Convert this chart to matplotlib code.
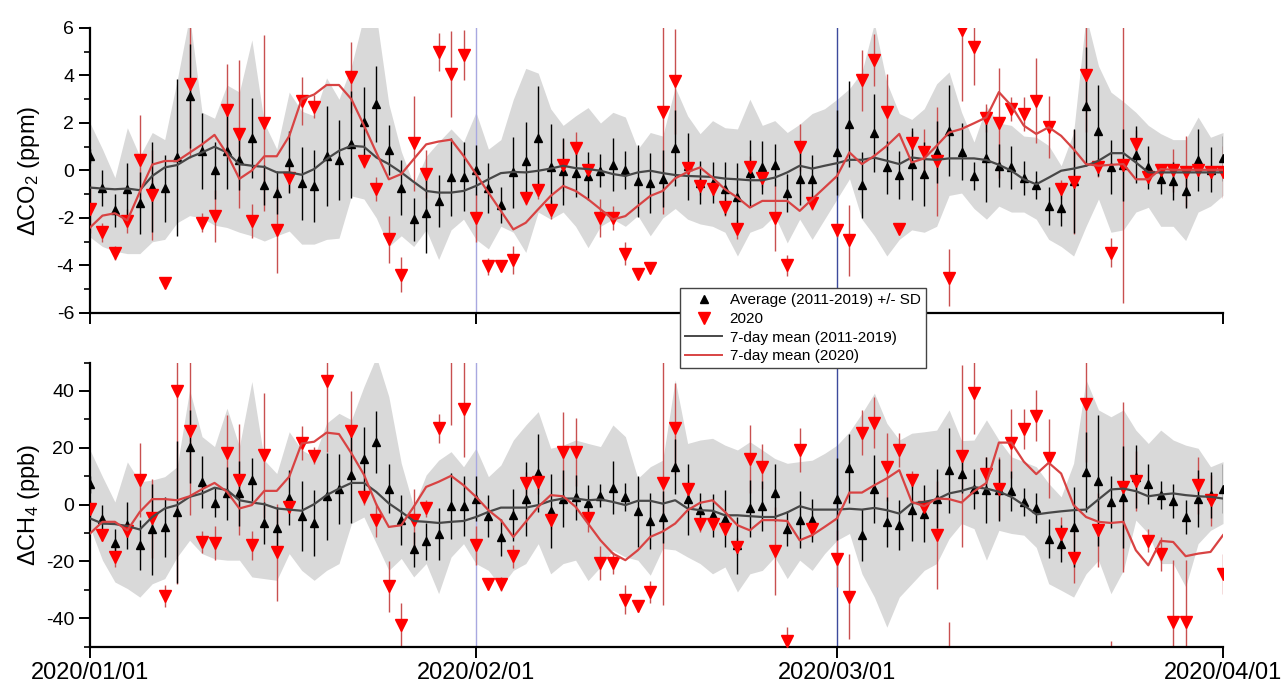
import numpy as np
import pandas as pd
import matplotlib
matplotlib.use("Agg")
import matplotlib.pyplot as plt
import matplotlib.dates as mdates
from matplotlib.lines import Line2D

plt.rcParams['font.family'] = ['Liberation Sans', 'DejaVu Sans']
plt.rcParams['mathtext.fontset'] = 'custom'
plt.rcParams['mathtext.rm'] = 'Liberation Sans'
plt.rcParams['mathtext.it'] = 'Liberation Sans'
plt.rcParams['mathtext.bf'] = 'Liberation Sans'
plt.rcParams['axes.unicode_minus'] = False

nan = np.nan
dates = pd.date_range('2020-01-01', '2020-04-01', freq='D')
tick_dates = pd.to_datetime(['2020-01-01', '2020-02-01', '2020-03-01', '2020-04-01'])
tick_labels = ['2020/01/01', '2020/02/01', '2020/03/01', '2020/04/01']
vline_dates = pd.to_datetime(['2020-02-01', '2020-03-01'])

# ---------------- CO2 (ppm) ----------------
co2_avg = [0.62, -0.75, -1.68, -0.79, -1.38, -0.69, -0.75, 0.55, 3.13, 0.83,
           0.0, 0.83, 0.44, 1.37, -0.62, -0.93, 0.37, -0.54, -0.65, 0.62,
           0.44, 1.1, 2.03, 2.79, 0.87, -0.72, -2.06, -1.77, -1.28, -0.27,
           -0.27, 0.03, -0.73, -1.44, -0.08, 0.39, 1.35, 0.15, -0.04, -0.1,
           -0.23, -0.01, 0.25, 0.04, -0.44, -0.52, -0.35, 0.95, 0.17, -0.51,
           -0.51, -0.76, -1.1, -0.1, 0.13, 0.23, -0.96, -0.34, -0.34, nan,
           0.76, 1.96, -0.62, 1.58, 0.13, -0.18, 0.27, -0.13, 0.79, 1.68,
           0.79, -0.23, 0.54, 0.2, 0.13, -0.32, -0.62, -1.49, -1.59, -0.45,
           2.7, 1.68, 0.15, 0.23, 0.66, 0.13, -0.37, -0.44, -0.86, 0.45,
           0.03, 0.52]
co2_avg_sd = [0.3, 0.75, 0.7, 1.1, 1.3, 1.9, 1.4, 3.3, 2.2, 1.6,
              1.2, 1.6, 1.25, 1.7, 0.85, 0.9, 1.3, 1.55, 1.5, 2.1,
              1.7, 2.25, 1.5, 1.6, 1.05, 1.15, 0.9, 1.7, 1.1, 1.65,
              1.45, 1.05, 1.05, 0.75, 1.5, 1.65, 2.2, 1.8, 1.4, 1.0,
              1.0, 0.7, 1.1, 0.8, 1.5, 1.25, 1.2, 1.6, 1.4, 0.9,
              0.85, 1.1, 1.4, 1.4, 1.1, 0.9, 0.8, 1.1, 1.0, nan,
              1.8, 1.8, 1.4, 1.65, 1.1, 1.0, 1.5, 1.35, 1.3, 1.9,
              1.2, 0.6, 1.85, 0.9, 0.9, 0.7, 0.6, 0.8, 0.75, 2.2,
              2.5, 1.9, 1.15, 1.5, 1.2, 0.9, 0.6, 0.8, 0.7, 1.3,
              0.95, 0.95]
co2_band_hi = [2.0, 0.9, -0.3, 1.8, 0.6, 1.6, 1.3, 3.8, 6.5, 2.45,
               2.2, 3.6, 3.3, 5.5, 2.0, 0.9, 3.3, 2.5, 2.3, 3.9,
               3.0, 4.4, 6.5, 6.5, 2.8, 0.8, -0.6, 0.6, 1.2, 1.75,
               1.2, 2.45, 0.9, 1.3, 3.0, 4.3, 4.1, 2.6, 1.9, 2.3,
               2.65, 2.0, 2.45, 2.25, 0.9, 1.6, 1.45, 3.5, 2.3, 1.55,
               2.1, 1.8, 1.75, 3.0, 1.9, 2.1, 1.6, 1.95, 2.4, 2.6,
               3.0, 3.45, 4.15, 6.2, 3.7, 2.4, 2.15, 2.6, 3.65, 4.15,
               2.45, 1.2, 2.7, 2.0, 1.9, 1.45, 1.4, 1.05, 0.2, 1.6,
               6.5, 4.4, 3.3, 2.9, 2.45, 1.9, 1.55, 1.3, 1.3, 2.25,
               1.4, 1.6]
co2_band_lo = [-2.8, -3.2, -3.4, -3.5, -3.5, -3.0, -2.9, -2.2, -1.9, -2.0,
               -2.3, -2.4, -2.6, -2.75, -2.97, -2.75, -2.55, -3.1, -3.1, -2.9,
               -2.85, -1.07, -1.2, -2.0, -3.2, -2.75, -3.2, -2.5, -3.75, -2.5,
               -2.05, -2.9, -3.3, -2.35, -2.6, -3.45, -1.75, -2.05, -1.75, -2.35,
               -3.25, -2.35, -2.05, -2.35, -1.9, -2.75, -2.0, -1.6, -2.05, -2.25,
               -2.35, -2.6, -3.6, -2.6, -2.4, -1.9, -3.05, -2.05, -2.9, -2.05,
               -1.2, -0.35, -2.05, -2.75, -3.6, -2.9, -2.5, -2.6, -2.35, -1.05,
               -0.95, -1.6, -2.05, -1.5, -1.75, -1.75, -2.05, -2.9, -3.2, -3.6,
               -2.35, -1.2, -2.6, -2.5, -1.75, -1.55, -2.35, -2.35, -2.95, -1.75,
               -1.5, -1.05]
co2_2020 = [-1.63, -2.59, -3.46, -2.14, 0.45, -1.04, -4.73, nan, 3.63, -2.2,
            -1.92, 2.55, 1.54, -2.13, 2.0, -2.5, -0.3, 2.93, 2.69, nan,
            nan, 3.93, 0.41, -0.79, -2.9, -4.38, 1.15, -0.15, 5.0, 4.07,
            4.85, -1.99, -4.03, -4.03, -3.77, -1.17, -0.82, -1.66, 0.24, 0.94,
            0.0, -1.99, -2.01, -3.5, -4.34, -4.1, 2.45, 3.75, 0.1, -0.65,
            -0.79, -1.52, -2.48, 0.13, -0.3, -1.99, -3.99, 0.97, -1.35, nan,
            -2.51, -2.94, 3.79, 4.66, 2.48, -2.45, 1.15, 0.76, 0.38, -4.52,
            5.93, 5.2, 2.2, 2.0, 2.59, 2.38, 2.94, 1.82, -0.79, -0.48,
            4.03, 0.13, -3.46, 0.24, 1.11, -0.27, 0.0, 0.0, -0.05, 0.03,
            -0.05, -0.05]
co2_2020_sd = [1.0, 0.4, 0.3, 0.5, 1.9, 1.9, 0.2, 0.0, 3.1, 0.4,
               1.1, 1.95, 3.1, 0.7, 3.7, 1.8, 0.6, 1.0, 0.5, 0.0,
               0.0, 1.5, 0.3, 0.5, 1.0, 0.75, 2.0, 1.0, 0.8, 1.8,
               1.05, 1.0, 0.35, 0.2, 0.6, 0.3, 0.4, 0.4, 1.1, 0.7,
               0.3, 0.8, 0.5, 0.5, 0.15, 0.2, 4.3, 2.2, 0.3, 0.4,
               0.3, 0.4, 0.4, 0.5, 0.4, 1.4, 0.45, 1.0, 0.3, 0.0,
               0.3, 1.5, 1.3, 1.1, 1.6, 0.2, 0.5, 1.0, 2.3, 1.2,
               3.0, 1.6, 0.6, 2.3, 0.5, 0.7, 1.8, 1.3, 0.4, 2.2,
               2.4, 0.4, 0.6, 5.8, 0.6, 0.3, 0.2, 0.9, 1.5, 0.2,
               0.3, 1.1]
co2_7d_avg = [-0.72, -0.76, -0.79, -0.76, -0.83, -0.23, 0.13, 0.23, 0.55, 0.76,
              1.0, 0.76, 0.27, 0.2, 0.15, -0.08, -0.08, -0.18, 0.06, 0.48,
              0.83, 1.04, 1.0, 0.55, 0.27, -0.08, -0.48, -0.86, -0.93, -0.93,
              -0.86, -0.65, -0.37, -0.11, -0.06, -0.08, -0.01, 0.08, 0.2, 0.1,
              0.06, -0.01, -0.15, -0.23, -0.08, -0.01, -0.11, -0.19, -0.23, -0.25,
              -0.27, -0.34, -0.37, -0.41, -0.41, -0.3, -0.08, 0.2, 0.08, 0.2,
              0.31, 0.45, 0.45, 0.54, 0.41, 0.27, 0.55, 0.48, 0.45, 0.51,
              0.51, 0.51, 0.44, 0.24, -0.01, -0.37, -0.58, -0.3, -0.01, 0.08,
              0.2, 0.41, 0.73, 0.73, 0.34, -0.08, -0.08, -0.08, -0.08, -0.08,
              -0.08, -0.08]
co2_7d_2020 = [-2.4, -1.9, -1.8, -2.1, -0.9, 0.25, 0.4, 0.4, 0.75, 1.1,
               1.5, 0.7, -0.35, 0.0, 0.6, 0.6, 1.45, 3.0, 3.2, 3.6,
               3.6, 3.0, 1.9, 0.75, -0.37, -0.15, 0.48, 1.1, 1.22, 1.3,
               0.62, -0.15, -0.93, -1.7, -2.48, -2.2, -1.63, -1.07, -0.65, -0.86,
               -1.21, -1.63, -2.06, -1.92, -1.49, -1.07, -0.86, -0.33, -0.06, 0.13,
               -0.3, -0.79, -1.14, -1.56, -1.28, -1.28, -1.28, -1.7, -1.21, -0.72,
               -0.23, 0.76, 0.27, 0.62, 1.04, 1.54, 0.34, 0.51, 1.04, 1.6,
               1.75, 1.99, 2.24, 3.3, 2.73, 1.89, 1.54, 1.82, 1.46, 0.9,
               0.27, 0.2, 0.24, 0.27, -0.37, -0.37, 0.06, 0.03, 0.03, 0.03,
               0.03, 0.03]

# ---------------- CH4 (ppb) ----------------
ch4_avg = [7.1, -5.2, -13.5, -7.3, -14.4, -8.8, -7.9, -2.8, 20.4, 8.0,
           0.7, 3.9, 3.9, 8.8, -6.4, -8.2, 2.4, -4.1, -6.5, 2.9,
           5.4, 10.4, 15.9, 22.1, 5.6, -5.5, -15.8, -12.9, -10.5, -0.5,
           -0.5, 2.1, -4.1, -11.6, -3.8, 1.9, 11.2, -2.4, 2.1, 2.5,
           0.7, 3.1, 5.9, 2.7, -2.4, -5.8, -4.4, 13.3, 1.8, -1.8,
           -3.8, -5.0, -14.4, -1.4, -0.6, 4.2, -8.5, -5.3, -5.5, nan,
           1.9, 12.7, -10.8, 5.6, -6.1, -7.3, -1.8, -3.2, 2.1, 12.1,
           10.9, 5.5, 5.1, 5.1, 4.7, 0.9, -1.1, -12.0, -13.8, -7.9,
           11.5, 8.4, 0.9, 2.7, 9.8, 7.2, 3.3, 1.3, -4.4, 2.0,
           3.3, 5.6]
ch4_avg_sd = [3, 5, 4.7, 8.2, 8.8, 15.9, 10.6, 25, 13, 9.1,
              5, 9.4, 11.5, 7.6, 7.4, 7.4, 9.7, 12.4, 11.5, 15.3,
              12.4, 17, 11.5, 10.9, 8.5, 8.8, 6.2, 6.5, 9.1, 11.5,
              10.6, 8, 7.4, 6.5, 9.2, 13, 13.7, 13, 10, 8,
              6.2, 4, 9.4, 5, 12.4, 10, 9, 9.7, 12.4, 5.9,
              7.6, 10, 10, 10, 8.8, 10, 6.2, 10, 7.6, nan,
              14.4, 12, 9.1, 12, 8.8, 8.8, 11, 10, 10.3, 15,
              7, 7, 11.5, 11, 7, 5, 5.3, 7, 6.5, 14,
              14, 23, 9, 18, 11, 7, 5, 6, 6, 10,
              8, 8.5]
ch4_band_hi = [19.2, 9.8, 0.9, 15, 8.0, 8.6, 9.8, 13.3, 40.4, 23.9,
               20.4, 33.9, 20.4, 43.3, 15.6, 10.9, 25.6, 19.2, 16.8, 28.6,
               32.1, 29.8, 41.5, 52, 38, 14.5, -0.8, 10.4, 15.6, 18.6,
               13.3, 19.8, 9.8, 13.9, 22.7, 28, 32.7, 19.8, 20.9, 22.7,
               21.5, 20.4, 28, 23.9, 9.2, 13.3, 15.6, 43.9, 21.5, 22.7,
               23.3, 20.9, 19.2, 22.1, 19.2, 16.2, 14.5, 15.1, 15.6, 18,
               20.9, 25.6, 32.1, 39.2, 28.6, 22.7, 25.1, 25.6, 26.2, 33.3,
               22.5, 22.7, 29.8, 22.7, 16.8, 15.1, 13.3, 7.4, 2.7, 14.5,
               43.9, 33.3, 30.9, 33.3, 26.2, 21.5, 26.2, 22.7, 20.9, 19.8,
               13.3, 15.1]
ch4_band_lo = [-8, -19.6, -27.3, -29.6, -32.6, -27.9, -26.1, -18.5, -12.6, -17.3,
               -19.1, -19.6, -19.6, -25.5, -26.1, -26.7, -17.3, -23.2, -26.7, -23.2,
               -20.8, -6.7, -4.4, -13.8, -23.2, -19, -25.5, -20.8, -31.4, -18.5,
               -13.8, -20.8, -23.2, -29, -23.2, -20.8, -13.8, -24.4, -20.8, -19.6,
               -26.8, -22, -16.1, -18.5, -19.6, -24.9, -15.5, -16, -18.5, -20.8,
               -24.4, -22, -30.8, -24.4, -23.2, -18.5, -26.1, -19.6, -23.2, -17.3,
               -12.6, -10.2, -24.4, -32.6, -43.2, -32.6, -27.9, -23.2, -20.8, -12,
               -6.7, -8.5, -19.6, -9.1, -10.2, -10.8, -15.1, -27.9, -30.2, -32.6,
               -24.4, -19.6, -31.4, -23.2, -5.5, -10.2, -20.8, -20.8, -29, -13.8,
               -9.1, -6.7]
ch4_2020 = [-1.6, -10.8, -18.5, -9.3, 8.6, -4.9, -32.2, 40.1, 25.9, -13.2,
            -13.5, 18.2, 8.8, -14.4, 17.4, -16.9, -0.8, 21.8, 17.1, 43.6,
            nan, 25.9, 2.7, -5.3, -28.8, -42.6, -5.5, -1.4, 26.8, 62,
            33.6, -14.4, -28.1, -28.1, -18.2, 7.4, 7.8, -5.5, 18.6, 18.6,
            -4.6, -20.6, -20.6, -33.5, -35.9, -30.8, 7.6, 26.8, 5.3, -6.7,
            -6.9, -8.8, -14.9, 15.9, 13.3, -16.4, -48.1, 19.2, -8.5, nan,
            -19.1, -32.4, 25.3, 28.8, 13.1, 19.2, 8.8, -0.8, -10.8, -60,
            17.2, 39.4, 10.9, 5.6, 21.5, 26.5, 31.2, 16.2, -10.5, -18.8,
            35.4, -9.1, -58, 6.2, 8.4, -12.8, -17.5, -41.4, -41.4, 6.8,
            1.5, -24.4]
ch4_2020_sd = [3, 2, 3.5, 2, 13, 14, 3.8, 68, 29.5, 4,
               6, 13.3, 19.4, 5, 22, 17, 2, 6, 3, 25,
               0, 14, 3, 6, 9, 8, 11, 3, 5, 34,
               17, 7, 2, 2.5, 4, 4, 4, 3, 14, 12,
               5, 6, 4, 5, 2, 4, 43, 16, 3, 3,
               2, 2, 3, 12, 8, 15.6, 5, 7.6, 3, 0,
               10, 15, 8, 9, 12, 6, 3, 2, 19, 18.5,
               32, 14.5, 6, 11, 12, 7, 9, 14, 6, 9,
               20.5, 13, 10, 30, 10.6, 4, 6, 22, 22, 10,
               9, 7]
ch4_7d_avg = [-4.9, -6.7, -6.9, -7.6, -8.8, -4.4, -1.4, -0.2, 2.7, 3.9,
              5.9, 5.1, 1.5, 0.7, 0.1, -1.4, -1.8, -2.2, 0.1, 3.3,
              5.6, 7.6, 7.6, 4.4, 0.4, -2.6, -5.8, -6.1, -6.5, -6.1,
              -5.8, -4.4, -2.6, -1.1, -1.1, -1.1, -0.2, 1.3, 2.1, 2.1,
              1.5, 1.8, 0.9, -0.2, 1.3, 1.3, 0.3, 1.5, -1.4, -2.0,
              -2.2, -3.8, -3.8, -4.1, -4.4, -4.4, -2.8, -0.6, -1.8, -1.8,
              -1.8, -1.5, -1.8, -1.2, -2.0, -3.2, 0.4, 0.9, 1.8, 3.9,
              4.8, 6.1, 5.6, 4.5, 2.7, -0.2, -3.5, -2.9, -2.4, -2.0,
              -1.8, 1.8, 5.3, 5.6, 4.7, 2.9, 3.5, 3.9, 3.3, 2.9,
              2.7, 2.1]
ch4_7d_2020 = [-10.2, -6.1, -6.1, -9.1, -2.6, 1.9, 1.9, 1.5, 2.9, 5.4,
               7.6, 4.5, -1.4, -0.2, 4.8, 4.8, 9.8, 21.5, 22.1, 25.3,
               24.8, 18.0, 10.5, 0.0, -7.9, -7.3, -0.8, 6.2, 8.0, 10.1,
               6.8, 2.7, -2.0, -5.5, -11.4, -6.1, -0.8, 3.3, 2.9, -0.8,
               -6.7, -12.6, -17.3, -19.6, -16.1, -11.4, -9.5, -6.7, -2.0, 0.6,
               1.5, -2.6, -7.3, -9.1, -5.5, -5.5, -5.8, -12.6, -10.8, -7.9,
               -4.9, 4.2, 4.2, 6.8, 9.2, 12.1, 0.9, -0.6, 2.1, 1.9,
               0.7, 4.6, 7.6, 21.8, 21.8, 15.1, 10.7, 14.7, 10.9, -0.2,
               -4.4, -6.1, -6.5, -6.1, -16.1, -21.4, -12.8, -13.2, -18.2, -17.3,
               -16.7, -10.8]

W, H = 1283, 683
fig = plt.figure(figsize=(W / 100, H / 100), dpi=100)
L, R = 90 / W, 1223 / W
ax1 = fig.add_axes([L, 1 - 313 / H, R - L, (313 - 28) / H])
ax2 = fig.add_axes([L, 1 - 646.5 / H, R - L, (646.5 - 362.5) / H])

BAND = '#d9d9d9'
RED_ERR = '#c85050'
RED_MK = '#ff0000'
RED_LN = '#d84343'
BLK_LN = '#474747'

def panel(ax, avg, sd, lo, hi, y20, sd20, m_avg, m20, ylim, major, minor, ylabel):
    ax.fill_between(dates, lo, hi, color=BAND, lw=0, zorder=1)
    ax.axvline(vline_dates[0], color='#a8a8e0', lw=1.0, zorder=1.5)
    ax.axvline(vline_dates[1], color='#3c4a9c', lw=1.0, zorder=1.5)
    ax.errorbar(dates, y20, yerr=sd20, fmt='none', ecolor=RED_ERR, elinewidth=1.0,
                capsize=0, zorder=2)
    ax.errorbar(dates, avg, yerr=sd, fmt='none', ecolor='black', elinewidth=1.0,
                capsize=0, zorder=2.2)
    ax.plot(dates, avg, linestyle='none', marker='^', color='black', ms=5.5, zorder=3)
    ax.plot(dates, y20, linestyle='none', marker='v', color=RED_MK, ms=8.5, zorder=3.2)
    ax.plot(dates, m_avg, color=BLK_LN, lw=1.6, zorder=4)
    ax.plot(dates, m20, color=RED_LN, lw=1.6, zorder=4.1)
    ax.set_xlim(dates[0], dates[-1])
    ax.set_ylim(*ylim)
    ax.set_yticks(major)
    ax.set_yticks(minor, minor=True)
    ax.set_xticks(tick_dates)
    for s in ['top', 'right']:
        ax.spines[s].set_visible(False)
    for s in ['left', 'bottom']:
        ax.spines[s].set_linewidth(1.6)
    ax.tick_params(axis='both', which='major', direction='out', length=8, width=1.4,
                   labelsize=14)
    ax.tick_params(axis='y', which='minor', direction='out', length=4.5, width=1.2)
    ax.set_ylabel(ylabel, fontsize=17)

panel(ax1, co2_avg, co2_avg_sd, co2_band_lo, co2_band_hi, co2_2020, co2_2020_sd,
      co2_7d_avg, co2_7d_2020, (-6, 6), np.arange(-6, 7, 2), np.arange(-5, 6, 2),
      r'$\Delta$CO$_2$ (ppm)')
panel(ax2, ch4_avg, ch4_avg_sd, ch4_band_lo, ch4_band_hi, ch4_2020, ch4_2020_sd,
      ch4_7d_avg, ch4_7d_2020, (-50, 50), np.arange(-40, 41, 20), np.arange(-50, 51, 10),
      r'$\Delta$CH$_4$ (ppb)')

ax1.set_xticklabels([])
ax2.set_xticklabels(tick_labels)
ax2.tick_params(axis='x', labelsize=17, pad=3)
ax1.yaxis.set_label_coords(-0.042, 0.5)
ax2.yaxis.set_label_coords(-0.042, 0.5)

handles = [
    Line2D([], [], linestyle='none', marker='^', color='black', ms=5.5),
    Line2D([], [], linestyle='none', marker='v', color=RED_MK, ms=8.5),
    Line2D([], [], color=BLK_LN, lw=1.4),
    Line2D([], [], color=RED_LN, lw=1.4),
]
labels = ['Average (2011-2019) +/- SD', '2020', '7-day mean (2011-2019)', '7-day mean (2020)']
leg = fig.legend(handles, labels, loc='upper left', bbox_to_anchor=(680 / W, 1 - 288 / H),
                 fontsize=11, frameon=True, fancybox=False, edgecolor='#444444',
                 framealpha=1, borderpad=0.35, labelspacing=0.3, handlelength=2.4,
                 handletextpad=0.5, borderaxespad=0, numpoints=1)
leg.get_frame().set_linewidth(1.0)

fig.savefig('out.png', dpi=100)
